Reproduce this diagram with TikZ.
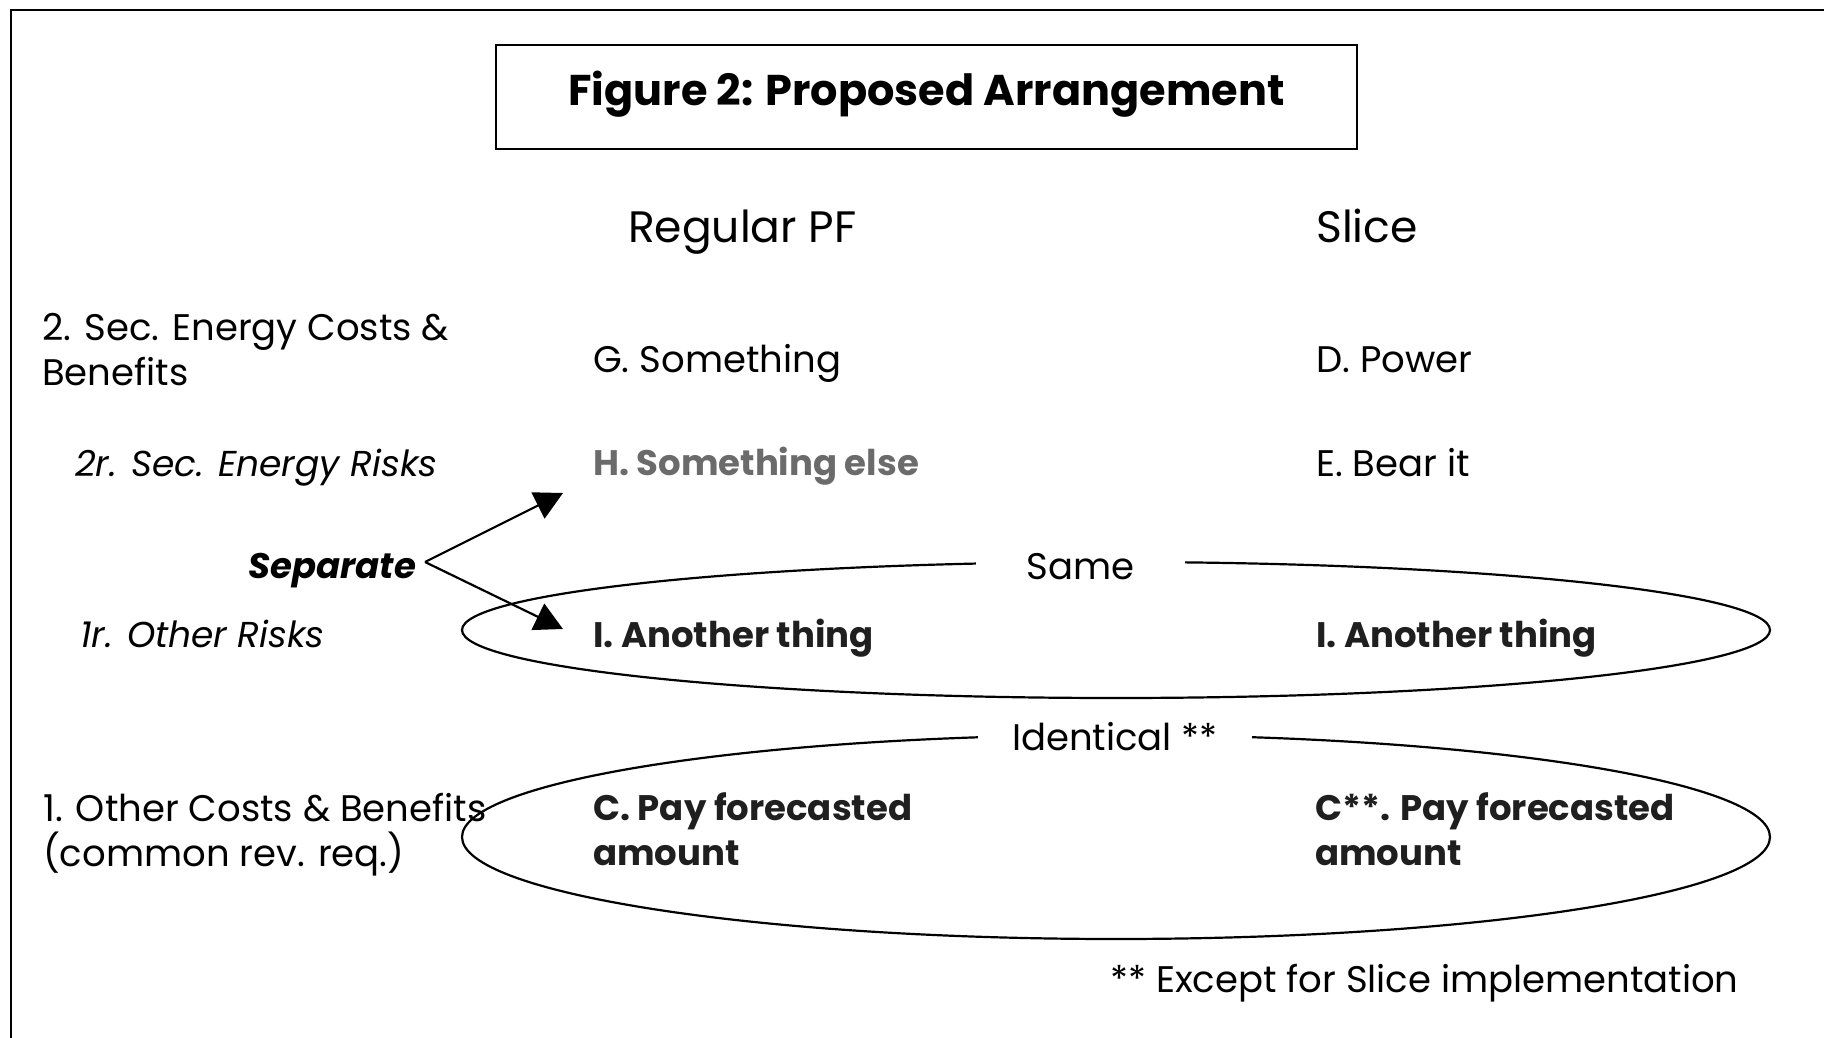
\documentclass[tikz,border=0pt]{standalone}
\usepackage{fontspec}
\setmainfont{Poppins}
\usetikzlibrary{arrows.meta,shapes.geometric}
\begin{document}
\begin{tikzpicture}[x=1pt,y=-1pt,
  txt/.style={inner sep=0pt,anchor=base west,font=\fontsize{37}{45}\selectfont,align=left},
  hdr/.style={inner sep=0pt,anchor=base west,font=\fontsize{44}{50}\selectfont},
  bld/.style={txt,font=\fontsize{35.5}{45}\selectfont\bfseries,text=black!88},
  itl/.style={txt,font=\fontsize{36}{45}\selectfont\itshape},
  ring/.style={ellipse,draw,line width=2.2pt,inner sep=0pt},
  tag/.style={fill=white,inner ysep=4pt,anchor=base,font=\fontsize{37}{45}\selectfont},
  arr/.style={line width=2.2pt,-{Triangle[length=28pt,width=29pt]}}]
\useasboundingbox (0,0) rectangle (1824,1038);
% frame
\draw[line width=2.6pt] (11,1045) -- (11,10) -- (1830,10);
% title
\node[draw,line width=2.6pt,minimum width=861pt,minimum height=104pt,inner sep=0pt,
  text depth=18pt,font=\fontsize{43}{50}\selectfont\bfseries] (title) at (926.5,97) {Figure 2: Proposed Arrangement};
% column headers
\node[hdr] (regpf) at (628,242) {Regular PF};
\node[hdr] (slice) at (1316,242) {Slice};
% row labels (base anchor = last line baseline)
\node[txt] (r2) at (42,385) {2. Sec. Energy Costs \&\\Benefits};
\node[itl] (r2r) at (75,476) {2r. Sec. Energy Risks};
\node[bld,font=\fontsize{35.5}{45}\selectfont\bfseries\itshape,text=black] (sep) at (248,578) {Separate};
\node[itl] (r1r) at (80,647) {1r. Other Risks};
\node[txt] (r1) at (43,866) {1. Other Costs \& Benefits\\(common rev. req.)};
% cells
\node[txt] (g) at (593,372) {G. Something};
\node[txt] (d) at (1316,372) {D. Power};
\node[bld,text=black!58] (h) at (593,475) {H. Something else};
\node[txt] (e) at (1316,476) {E. Bear it};
% ellipses
\node[ring,minimum width=1308pt,minimum height=136pt] (same) at (1116,630) {};
\node[ring,minimum width=1308pt,minimum height=204pt] (ident) at (1116,837) {};
\node[tag,inner xsep=51pt] (samelbl) at (1080.5,579) {Same};
\node[tag,inner xsep=34pt] (identlbl) at (1115,750) {Identical **};
\node[bld] (ia) at (593,647) {I. Another thing};
\node[bld] (ib) at (1316,647) {I. Another thing};
\node[bld] (ca) at (593,865) {C. Pay forecasted\\amount};
\node[bld] (cb) at (1315,865) {C**. Pay forecasted\\amount};
% footnote
\node[txt] (foot) at (1110,992) {** Except for Slice implementation};
% arrows
\coordinate (fork) at (425,562);
\coordinate (tipH) at (563,493);
\coordinate (tipI) at (563,629);
\draw[arr] (fork) -- (tipH);
\draw[arr] (fork) -- (tipI);
\end{tikzpicture}
\end{document}
